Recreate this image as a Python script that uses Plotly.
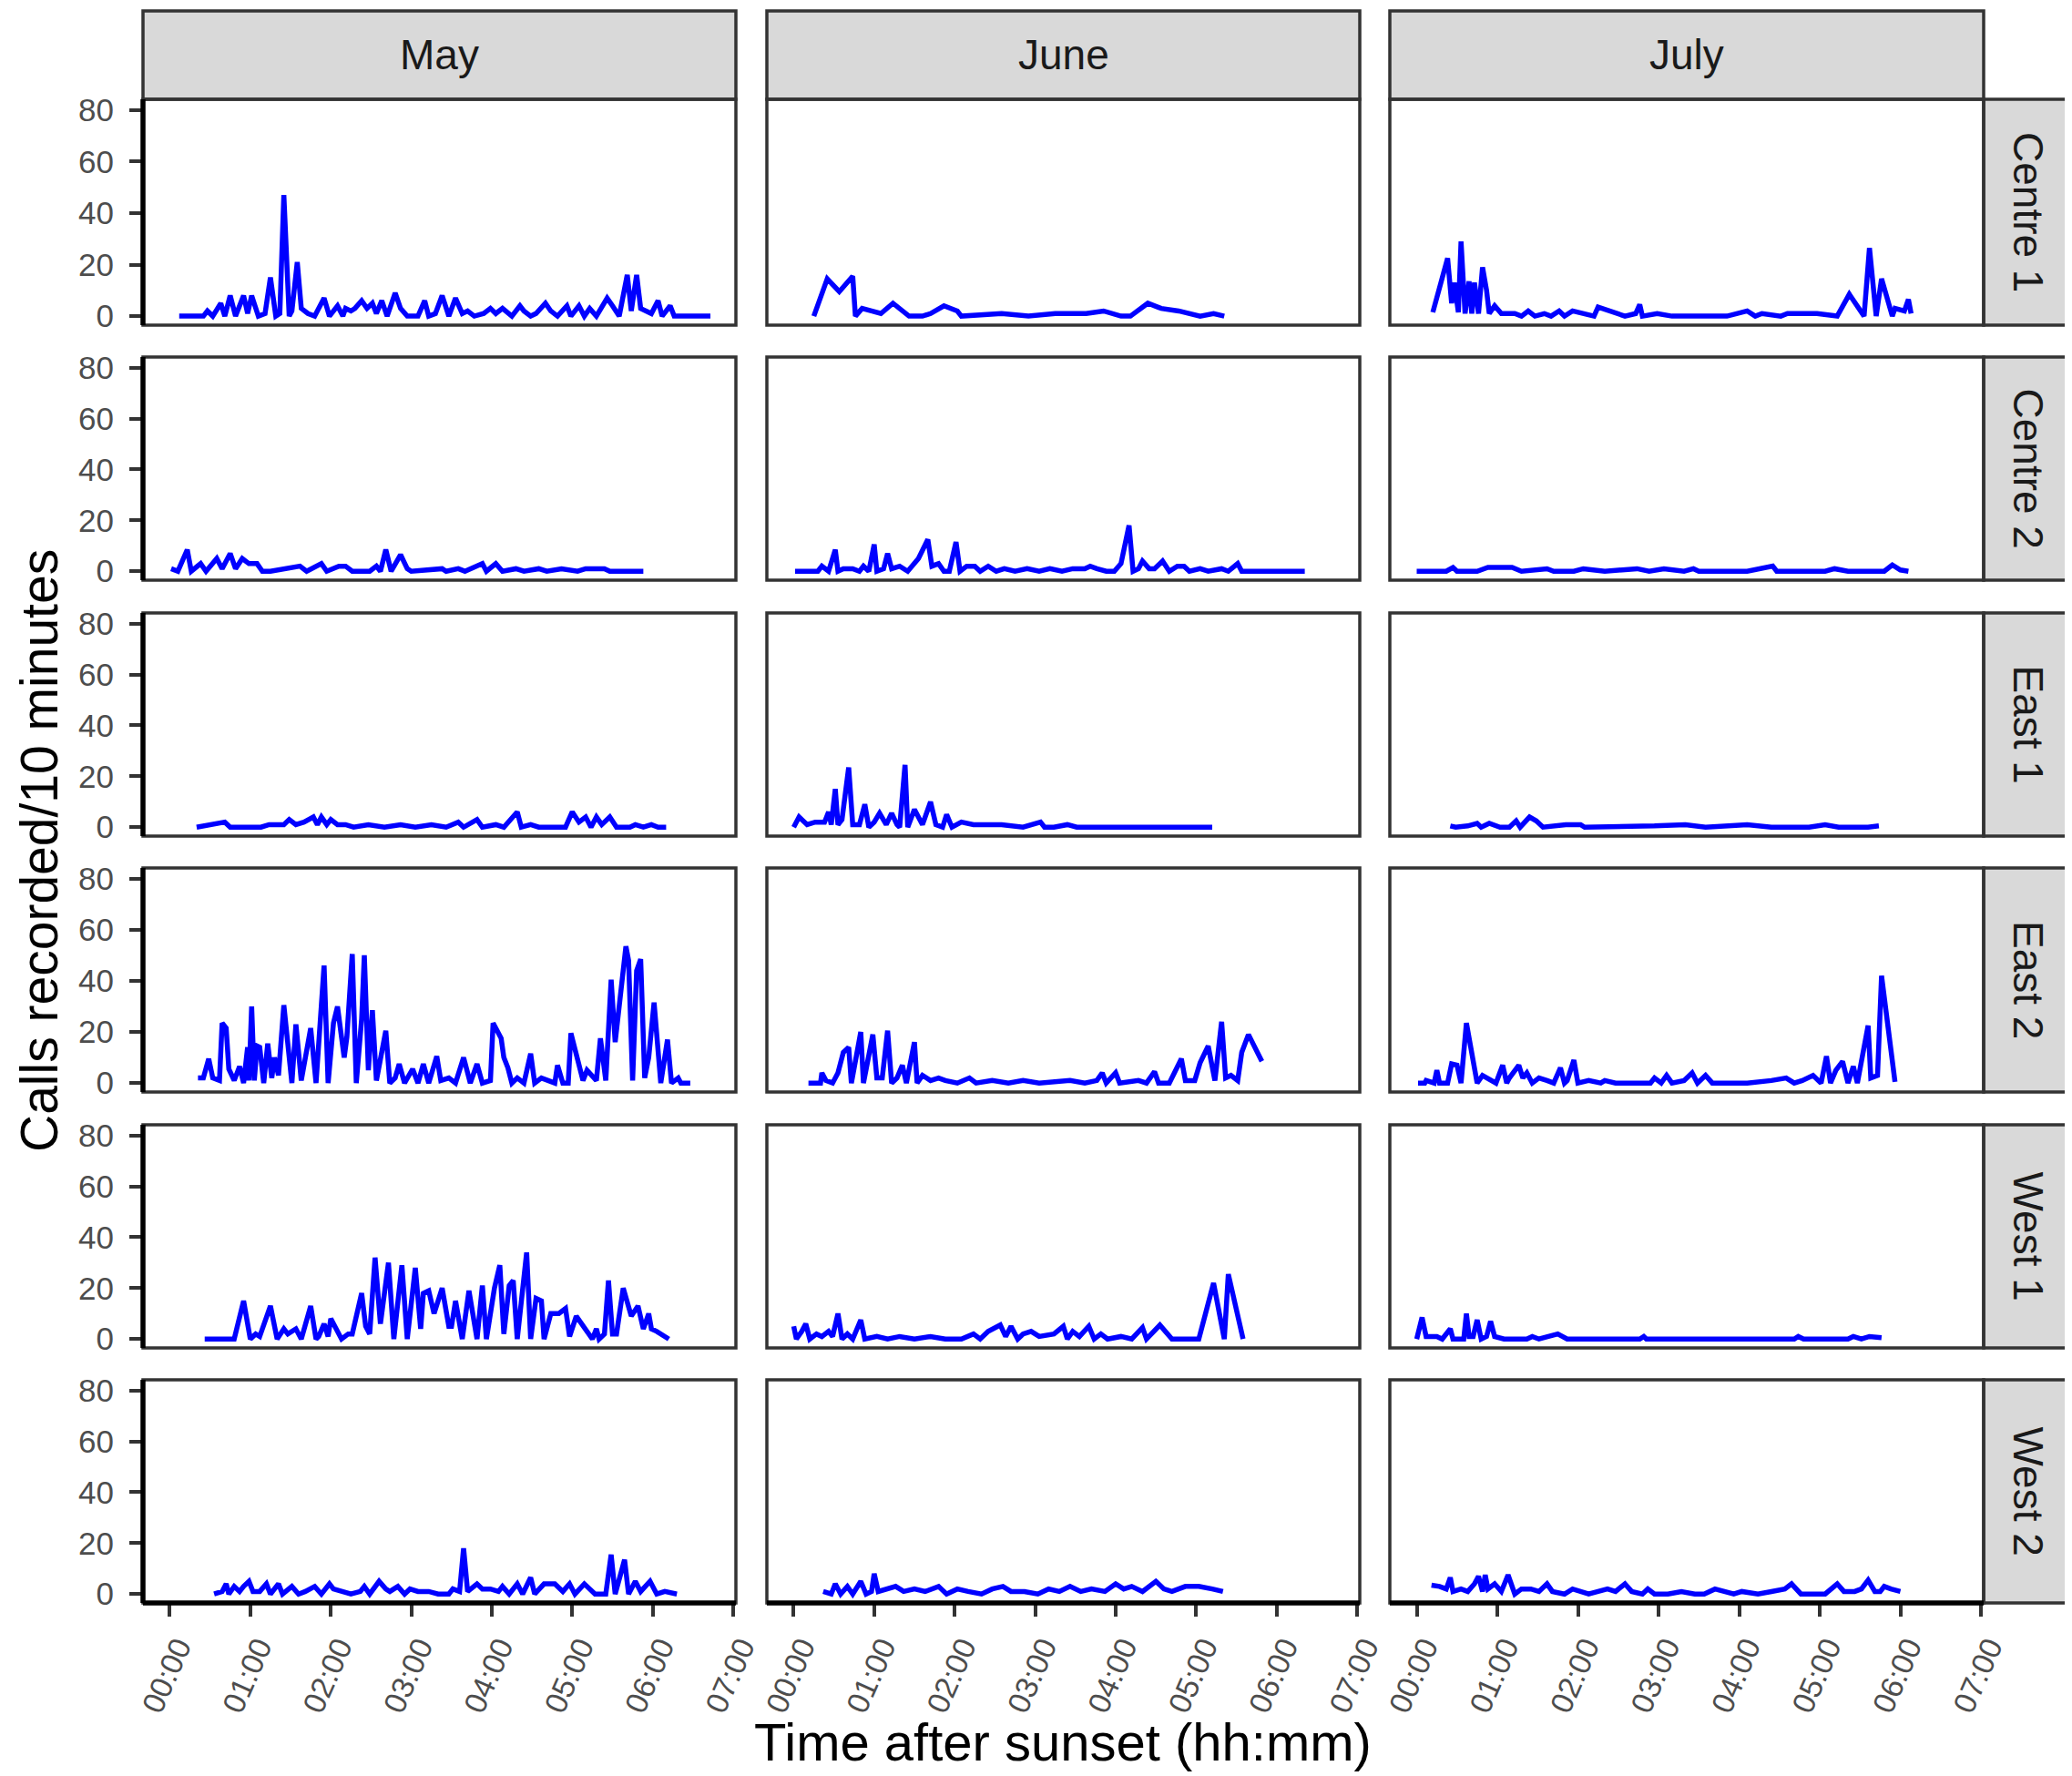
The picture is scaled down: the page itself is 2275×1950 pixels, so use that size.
import plotly.graph_objects as go

# ---------------- data: (minutes after sunset, calls per 10 minutes) ----------------
months = ["May", "June", "July"]
sites = ["Centre 1", "Centre 2", "East 1", "East 2", "West 1", "West 2"]
x_tick_vals = [0, 60, 120, 180, 240, 300, 360, 420]
x_tick_text = ["00:00", "01:00", "02:00", "03:00", "04:00", "05:00", "06:00", "07:00"]
y_tick_vals = [0, 20, 40, 60, 80]

may_c1 = [(7,0),(25,0),(28,2),(32,0),(38,5),(41,0),(45,8),(49,0),(55,8),(58,1),(61,8),(66,0),(71,1),(75,15),(79,0),(82,1),(85,47),(89,0),(91,2),(95,21),(98,3),(103,1),(108,0),(115,7),(119,0),(125,4),(129,0),(131,3),(135,2),(138,3),(143,6),(147,3),(151,5),(154,1),(158,6),(162,0),(168,9),(172,3),(177,0),(185,0),(190,6),(193,0),(198,1),(203,8),(208,0),(213,7),(218,1),(222,2),(227,0),(234,1),(239,3),(243,1),(248,3),(252,1),(255,0),(261,4),(264,2),(269,0),(273,1),(280,5),(284,2),(289,0),(296,4),(299,0),(305,4),(309,0),(313,3),(318,0),(326,7),(330,4),(335,0),(341,16),(344,2),(348,16),(351,3),(355,2),(359,1),(364,6),(367,0),(373,4),(376,0),(403,0)]
may_c2 = [(1,1),(6,0),(13,8.5),(16,0),(23,3),(27,0),(35,5),(39,1),(45,7),(49,1),(54,5),(59,3),(65,3),(69,0),(75,0),(97,2),(102,0),(113,3),(117,0),(126,2),(131,2),(136,0),(149,0),(154,2),(157,0),(161,8.5),(165,0),(172,6.5),(177,1),(180,0),(203,1),(206,0),(215,1),(220,0),(233,3),(236,0),(243,3),(248,0),(258,1),(264,0),(275,1),(281,0),(292,1),(304,0),(310,1),(324,1),(328,0),(353,0)]
may_e1 = [(20,0),(33,1.5),(41,2),(45,0),(68,0),(74,1),(85,1),(89,3),(94,1),(100,2),(107,4),(110,1),(113,4),(117,1),(120,3),(125,1),(131,1),(137,0),(148,1),(160,0),(172,1),(183,0),(195,1),(206,0),(215,2),(219,0),(225,2),(229,3),(233,0),(243,1),(249,0),(259,6),(262,0),(269,1),(275,0),(295,0),(300,6),(305,2),(310,4),(314,0),(318,4),(322,1),(328,4),(333,0),(343,0),(347,1),(353,0),(359,1),(364,0),(370,0)]
may_e2 = [(21,2),(25,2),(29,9.5),(32,2),(37,1),(39,23.5),(42,21.5),(44,5.5),(48,1),(52,6.5),(55,0),(58,14),(59,1),(61,30),(63,1),(65,14.5),(67,14),(70,0),(73,15.5),(76,2),(78,10),(81,3),(85,30.5),(89,12),(91,0),(94,23),(98,1),(105,21.5),(109,0),(115,46),(118,0),(122,23.5),(125,30),(130,10),(132,18),(136,50.5),(139,0),(143,25),(145,50),(148,5),(151,28.5),(154,1),(157,10),(161,20.5),(164,0),(168,2),(171,7.5),(175,0),(181,5.5),(185,0),(189,7.5),(193,0),(199,10.5),(202,1),(208,2),(213,0),(219,10),(224,0),(229,7.5),(233,0),(239,1),(241,23.5),(247,17.5),(249,10),(252,6),(255,0),(259,2),(264,0),(269,11.5),(272,0),(277,2),(287,0),(289,7),(293,0),(297,0),(299,19.5),(308,1),(311,5),(318,1),(321,17.5),(325,1),(329,40.5),(332,16),(335,30),(340,53.5),(342,48),(345,1),(348,44),(351,48.5),(354,2),(357,10),(361,31.5),(364,15),(366,0),(371,17),(374,0),(379,2),(381,0),(388,0)]
may_w1 = [(26,0),(48,0),(55,15),(60,0),(64,2),(67,1),(75,13),(80,0),(85,4),(88,2),(94,4),(98,0),(105,13),(109,0),(111,1),(115,6),(118,1),(120,8),(124,4),(128,0),(133,2),(136,2),(143,18),(146,5),(149,2),(153,32),(157,6),(163,30),(167,0),(173,29),(177,0),(183,28),(187,4),(189,18),(193,19),(197,10),(203,20),(208,5),(210,5),(213,15),(218,0),(223,19),(229,0),(233,21),(236,0),(242,20),(246,29),(249,2),(253,21),(256,23),(259,0),(266,34),(269,0),(273,16),(277,15),(279,0),(284,10),(290,10),(295,12),(298,1),(303,9),(311,3),(315,0),(318,4),(320,0),(324,2),(327,23),(330,2),(333,2),(338,20),(344,9),(349,13),(353,4),(357,10),(359,4),(363,3),(372,0)]
may_w2 = [(33,0),(39,1),(42,4),(44,0),(48,3),(52,1),(55,3),(59,5),(62,1),(67,1),(72,4),(75,0),(81,4),(84,0),(91,3),(96,0),(101,1),(108,3),(113,0),(119,4),(122,2),(130,1),(135,0),(142,1),(145,3),(149,0),(156,5),(161,2),(164,1),(170,3),(175,0),(179,2),(185,1),(193,1),(200,0),(208,0),(211,2),(216,1),(219,18),(222,1),(229,4),(233,2),(239,2),(245,1),(248,3),(253,0),(259,4),(263,0),(269,6.5),(272,0),(279,4),(287,4),(293,1),(298,4),(302,0),(309,4),(317,0),(325,0),(329,15.5),(332,0),(339,13.5),(342,0),(347,5),(351,1),(358,5),(363,0),(369,1),(378,0)]

june_c1 = [(15,0),(25,14.5),(34,9.5),(44,15.5),(46,0),(51,3),(58,2),(65,1),(74,5),(86,0),(96,0),(102,1),(112,4),(122,2),(125,0),(142,0.5),(155,1),(175,0),(195,1),(218,1),(231,2),(244,0),(251,0),(264,5),(274,3),(287,2),(303,0),(313,1),(321,0)]
june_c2 = [(1,0),(18,0),(21,2),(26,0),(31,8.5),(33,0),(37,1),(44,1),(49,0),(52,2),(56,0),(60,10.5),(62,0),(67,1),(70,7),(73,1),(79,2),(85,0),(93,5),(100,12.5),(103,2),(108,3),(112,0),(116,0),(121,11.5),(124,0),(129,2),(135,2),(139,0),(145,2),(151,0),(157,1),(165,0),(174,1),(183,0),(191,1),(200,0),(208,1),(217,1),(221,2),(226,1),(233,0),(239,0),(244,3),(250,18),(253,0),(257,1),(260,4),(265,1),(269,1),(275,4),(280,0),(286,2),(291,2),(295,0),(303,1),(309,0),(319,1),(324,0),(331,3),(334,0),(381,0)]
june_e1 = [(0,0),(4,4),(10,1),(16,2),(23,2),(26,6),(28,1),(31,15),(33,1),(36,3),(41,23.5),(44,1),(49,1),(53,9),(56,0),(60,2),(64,5.5),(69,1),(73,5.5),(77,1),(79,0),(83,24.5),(85,0),(90,7),(96,1),(102,10),(106,1),(111,0),(114,5),(118,0),(125,2),(134,1),(145,1),(155,1),(171,0),(184,2),(187,0),(194,0),(204,1),(211,0),(312,0)]
june_e2 = [(11,0),(20,0),(21,4),(24,1),(29,0),(33,4),(37,12),(41,14),(43,0),(50,20),(52,0),(56,10),(59,19),(62,2),(66,2),(70,20.5),(73,0),(77,2),(81,7),(84,0),(90,16),(92,0),(96,3),(102,1),(108,2),(113,1),(122,0),(131,2),(136,0),(148,1),(160,0),(171,1),(183,0),(206,1),(217,0),(226,1),(230,4),(233,0),(240,4),(243,0),(257,1),(263,0),(269,4.5),(272,0),(280,0),(289,9.5),(292,1),(299,1),(303,8),(309,14.5),(314,1),(319,24),(322,2),(326,3),(331,1),(334,12),(339,19),(349,8.5)]
june_w1 = [(0,5),(2,0),(6,3),(9,6),(12,0),(17,2),(21,1),(26,3),(29,1),(33,10),(36,0),(40,2),(44,0),(50,7.5),(53,0),(62,1),(70,0),(79,1),(90,0),(102,1),(113,0),(125,0),(134,2),(139,0),(145,3),(154,5.5),(158,1),(162,5),(167,0),(171,2),(177,3),(183,1),(194,2),(201,5),(204,0),(208,3),(213,1),(220,5),(224,0),(229,2),(234,0),(244,1),(252,0),(256,2),(260,4.5),(263,0),(267,2),(273,5.5),(282,0),(302,0),(313,22),(321,0),(324,25.5),(335,0)]
june_w2 = [(22,1),(28,0),(31,4),(35,0),(40,3),(44,0),(50,5),(54,0),(58,1),(60,8),(63,1),(70,2),(76,3),(82,1),(90,2),(98,1),(108,3),(114,0),(122,2),(130,1),(140,0),(148,2),(156,3),(162,1),(172,1),(182,0),(190,2),(198,1),(206,3),(214,1),(222,2),(232,1),(240,4),(246,2),(252,3),(260,1),(270,5),(276,2),(282,1),(292,3),(302,3),(312,2),(320,1)]

july_c1 = [(12,1.5),(23,22.5),(26,5),(28,13),(31,1.5),(33,29),(36,1),(39,13.5),(41,1),(43,13),(46,1),(49,19),(52,10),(54,1),(58,4),(63,1),(73,1),(78,0),(83,2),(88,0),(95,1),(100,0),(106,2),(110,0),(116,2),(123,1),(132,0),(135,3.5),(143,2),(155,0),(163,1),(166,4.5),(168,0),(179,1),(190,0),(214,0),(231,0),(246,2),(252,0),(257,1),(271,0),(276,1),(298,1),(313,0),(322,8.5),(333,0),(337,26.5),(342,0),(346,14.5),(354,0),(356,3),(363,2),(366,6.5),(368,1)]
july_c2 = [(0,0),(22,0),(27,1.5),(30,0),(45,0),(49,1),(53,1.5),(71,1.5),(78,0),(97,1),(102,0),(117,0),(124,1),(140,0),(164,1),(173,0),(184,1),(199,0),(206,1),(210,0),(246,0),(265,2),(268,0),(304,0),(311,1),(321,0),(348,0),(354,2.5),(360,0.5),(366,0)]
july_e1 = [(25,0.5),(29,0),(38,0.5),(45,1.5),(48,0),(54,1.5),(62,0),(69,0),(74,2.5),(77,0),(84,4),(89,2.5),(94,0),(102,0.5),(111,1),(122,1),(125,0),(177,0.5),(200,1),(215,0),(246,1),(264,0),(292,0),(304,1),(314,0),(336,0),(344,0.5)]
july_e2 = [(1,0),(6,0),(7,1),(13,0),(15,5),(17,0),(23,0),(26,7.5),(30,7),(33,0),(37,23.5),(45,0),(49,3),(53,2),(59,0),(64,7),(67,0),(69,2),(76,7),(79,2),(82,4),(86,0),(91,2),(97,1),(102,0),(107,6),(110,0),(112,1),(117,9),(120,0),(128,1),(137,0),(140,1),(148,0),(174,0),(177,2),(182,0),(186,3),(190,0),(199,1),(205,4),(209,0),(215,3),(220,0),(229,0),(246,0),(264,1),(275,2),(281,0),(287,1),(295,3),(301,0),(305,10.5),(308,0),(312,5),(317,8.5),(321,0),(325,6.5),(328,0),(336,22.5),(338,2),(343,3),(346,42),(356,0.5)]
july_w1 = [(0,0),(4,8.5),(7,1),(15,1),(19,0),(25,4),(27,0),(35,0),(37,10),(39,1),(42,1),(45,7.5),(48,0),(52,1),(55,7),(58,1),(65,0),(82,0),(86,1),(91,0),(105,2),(112,0),(137,0),(166,0),(169,1),(171,0),(206,0),(281,0),(284,1),(288,0),(321,0),(325,1),(331,0),(337,1),(346,0.5)]
july_w2 = [(11,3.5),(17,3),(22,2),(25,6.5),(27,1),(33,2),(38,1),(43,4),(46,7),(49,1),(51,7.5),(53,2),(58,4),(63,1),(68,7.5),(73,0),(78,2),(85,2),(91,1),(97,4),(101,1),(110,0),(116,2),(121,1),(128,0),(135,1),(142,2),(148,1),(155,4),(160,1),(168,0),(172,2),(177,0),(187,0),(197,1),(207,0),(214,0),(222,2),(231,1),(236,0),(242,1),(254,0),(264,1),(274,2),(279,4),(286,0),(298,0),(304,0),(313,4),(318,1),(326,1),(331,2),(336,5.5),(341,1),(345,1),(348,3),(353,2),(360,1)]

panels = [
    [may_c1, june_c1, july_c1],
    [may_c2, june_c2, july_c2],
    [may_e1, june_e1, july_e1],
    [may_e2, june_e2, july_e2],
    [may_w1, june_w1, july_w1],
    [may_w2, june_w2, july_w2],
]

# ---------------- layout geometry (window pixels) ----------------
OFF = 8  # the page body has an 8 px margin; the figure starts at (8, 8) in the window
W, H = 2275 - OFF, 1950 - OFF
col_l = [157, 842, 1526]
col_r = [808, 1493, 2178]
row_t = [109, 392, 673, 953, 1235, 1515]
row_b = [357, 637, 918, 1199, 1480, 1760]
strip_top = (12, 109)
strip_right = (2178, 2290)

def fx(p):
    return (p - OFF) / W

def fy(p):
    return 1 - (p - OFF) / H

FONT = "Liberation Sans, Arial, Helvetica, sans-serif"
BORDER = "#333333"

fig = go.Figure()
layout = dict(
    width=W, height=H, margin=dict(l=0, r=0, t=0, b=0, autoexpand=False),
    paper_bgcolor="white", plot_bgcolor="white", showlegend=False,
    font=dict(family=FONT), template="none",
)
shapes = []
annotations = []

for r in range(6):
    for c in range(3):
        k = r * 3 + c + 1
        sfx = "" if k == 1 else str(k)
        data = panels[r][c]
        fig.add_trace(go.Scatter(
            x=[p[0] for p in data], y=[p[1] for p in data], mode="lines",
            line=dict(color="#0000FF", width=5.5), xaxis="x" + sfx, yaxis="y" + sfx,
            hoverinfo="skip",
        ))
        bottom = (r == 5)
        left = (c == 0)
        layout["xaxis" + sfx] = dict(
            domain=[fx(col_l[c]), fx(col_r[c])], range=[-20, 422], anchor="y" + sfx,
            showgrid=False, zeroline=False, showline=False, automargin=False,
            tickmode="array", tickvals=x_tick_vals, ticktext=x_tick_text,
            showticklabels=bottom, ticks="outside" if bottom else "",
            ticklen=14, tickwidth=4, tickcolor=BORDER, tickangle=-66,
            ticklabelshift=9, ticklabelstandoff=0,
            tickfont=dict(family=FONT, size=34, color="#4D4D4D"),
            fixedrange=True,
        )
        layout["yaxis" + sfx] = dict(
            domain=[fy(row_b[r]), fy(row_t[r])], range=[-3.5, 84.2], anchor="x" + sfx,
            showgrid=False, zeroline=False, showline=False, automargin=False,
            tickmode="array", tickvals=y_tick_vals,
            showticklabels=left, ticks="outside" if left else "",
            ticklen=14, tickwidth=4, tickcolor=BORDER, ticklabelstandoff=10,
            tickfont=dict(family=FONT, size=35, color="#4D4D4D"),
            fixedrange=True,
        )
        shapes.append(dict(type="rect", xref="x" + sfx + " domain", yref="y" + sfx + " domain",
                           x0=0, x1=1, y0=0, y1=1, line=dict(color=BORDER, width=3.5),
                           layer="above"))
        if left:
            shapes.append(dict(type="line", xref="x" + sfx + " domain", yref="y" + sfx + " domain",
                               x0=0, x1=0, y0=0, y1=1, line=dict(color="black", width=5.5),
                               layer="above"))
        if bottom:
            shapes.append(dict(type="line", xref="x" + sfx + " domain", yref="y" + sfx + " domain",
                               x0=0, x1=1, y0=0, y1=0, line=dict(color="black", width=5.5),
                               layer="above"))

# top strips (months)
for c, m in enumerate(months):
    shapes.append(dict(type="rect", xref="paper", yref="paper",
                       x0=fx(col_l[c]), x1=fx(col_r[c]), y0=fy(strip_top[1]), y1=fy(strip_top[0]),
                       fillcolor="#D9D9D9", line=dict(color=BORDER, width=3.5), layer="below"))
    annotations.append(dict(xref="paper", yref="paper", x=fx((col_l[c] + col_r[c]) / 2),
                            y=fy(sum(strip_top) / 2), text=m, showarrow=False,
                            xanchor="center", yanchor="middle",
                            font=dict(family=FONT, size=46, color="#1A1A1A")))

# right strips (sites)
for r, s in enumerate(sites):
    shapes.append(dict(type="rect", xref="paper", yref="paper",
                       x0=fx(strip_right[0]), x1=fx(strip_right[1]), y0=fy(row_b[r]), y1=fy(row_t[r]),
                       fillcolor="#D9D9D9", line=dict(color=BORDER, width=3.5), layer="below"))
    annotations.append(dict(xref="paper", yref="paper", x=fx(2227),
                            y=fy((row_t[r] + row_b[r]) / 2), text=s, showarrow=False,
                            textangle=90, xanchor="center", yanchor="middle",
                            font=dict(family=FONT, size=46, color="#1A1A1A")))

# axis titles
annotations.append(dict(xref="paper", yref="paper", x=fx(43), y=fy(934),
                        text="Calls recorded/10 minutes", showarrow=False, textangle=-90,
                        xanchor="center", yanchor="middle",
                        font=dict(family=FONT, size=57, color="black")))
annotations.append(dict(xref="paper", yref="paper", x=fx(1167), y=fy(1912),
                        text="Time after sunset (hh:mm)", showarrow=False,
                        xanchor="center", yanchor="middle",
                        font=dict(family=FONT, size=58, color="black")))

layout["shapes"] = shapes
layout["annotations"] = annotations
fig.update_layout(**layout)
fig.write_html("out.html")
